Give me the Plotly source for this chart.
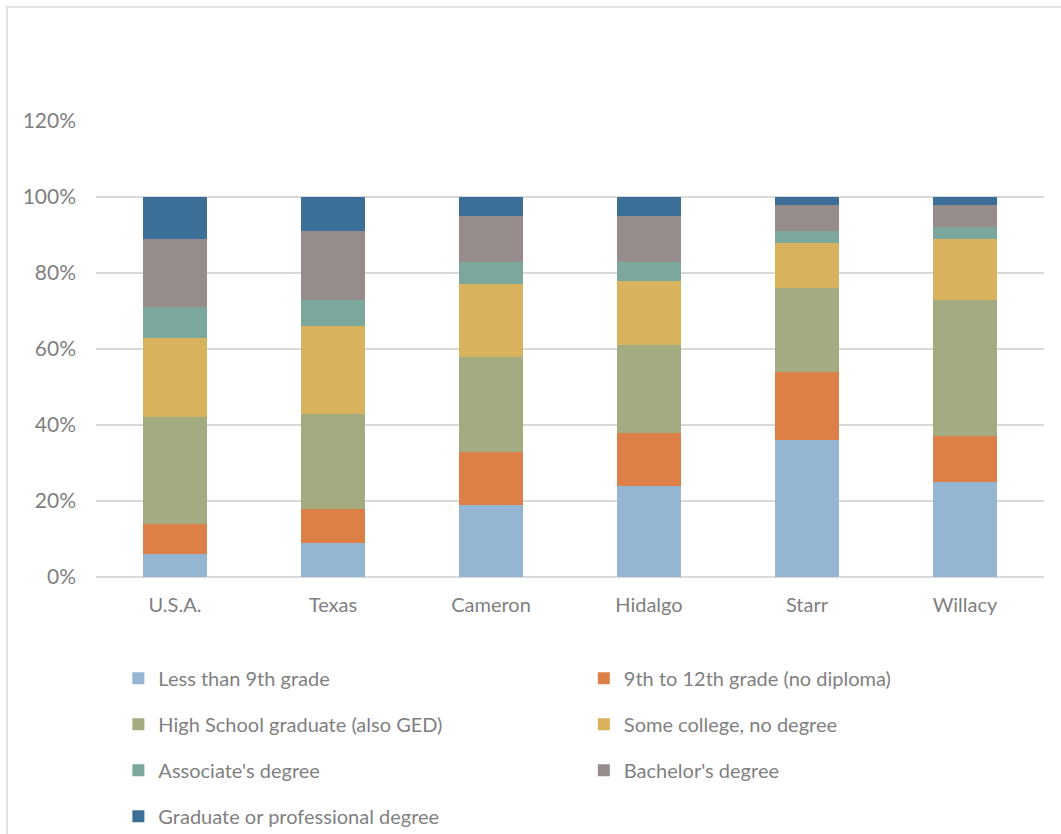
import plotly.graph_objects as go

categories = ["U.S.A.", "Texas", "Cameron", "Hidalgo", "Starr", "Willacy"]

less_than_9th = [0.06, 0.09, 0.19, 0.24, 0.36, 0.25]
grade_9_to_12 = [0.08, 0.09, 0.14, 0.14, 0.18, 0.12]
high_school = [0.28, 0.25, 0.25, 0.23, 0.22, 0.36]
some_college = [0.21, 0.23, 0.19, 0.17, 0.12, 0.16]
associates = [0.08, 0.07, 0.06, 0.05, 0.03, 0.03]
bachelors = [0.18, 0.18, 0.12, 0.12, 0.07, 0.06]
graduate = [0.11, 0.09, 0.05, 0.05, 0.02, 0.02]

series_names = [
    "Less than 9th grade",
    "9th to 12th grade (no diploma)",
    "High School graduate (also GED)",
    "Some college, no degree",
    "Associate's degree",
    "Bachelor's degree",
    "Graduate or professional degree",
]
series_values = [less_than_9th, grade_9_to_12, high_school, some_college,
                 associates, bachelors, graduate]
colors = ["#94B6D2", "#DD8047", "#A5AB81", "#D8B25C", "#7BA79D", "#968C8C", "#3B6F98"]

FONT = "Lato, 'Open Sans', sans-serif"
fig = go.Figure()
for i, (name, vals, col) in enumerate(zip(series_names, series_values, colors)):
    fig.add_trace(go.Bar(
        x=categories, y=vals, name=name,
        marker=dict(color=col, line=dict(width=0)),
        legend="legend" if i % 2 == 0 else "legend2",
        legendgroup=name,
    ))

fig.update_layout(
    barmode="stack",
    bargap=0.6,
    width=1061, height=834,
    margin=dict(l=96, r=17, t=121, b=257, autoexpand=False),
    paper_bgcolor="white",
    plot_bgcolor="white",
    font=dict(family=FONT, color="#7f7f7f", size=18),
    xaxis=dict(showgrid=False, showline=False, ticks="", ticklabelstandoff=14,
               tickfont=dict(size=20, color="#7f7f7f")),
    yaxis=dict(range=[0, 1.2], dtick=0.2, tickformat=".0%", showgrid=True,
               gridcolor="#d9d9d9", gridwidth=1.5, zeroline=True, zerolinecolor="#d9d9d9",
               zerolinewidth=2, showline=False, ticks="", ticklabelstandoff=19,
               tickfont=dict(size=21, color="#7f7f7f")),
    legend=dict(x=0.0236, y=-0.1794, xanchor="left", yanchor="top", orientation="v",
                tracegroupgap=17, font=dict(size=20, color="#7f7f7f"),
                bgcolor="rgba(0,0,0,0)"),
    legend2=dict(x=0.5146, y=-0.1794, xanchor="left", yanchor="top", orientation="v",
                 tracegroupgap=17, font=dict(size=20, color="#7f7f7f"),
                 bgcolor="rgba(0,0,0,0)"),
    showlegend=True,
)

# chart area border (light gray, top and left visible)
fig.add_shape(type="rect", xref="paper", yref="paper",
              x0=(7 - 96) / 948, x1=(1070 - 96) / 948,
              y0=(577 - 845) / 456, y1=(577 - 7) / 456,
              line=dict(color="#d9d9d9", width=1.5), layer="below")

fig.write_html("out.html")
